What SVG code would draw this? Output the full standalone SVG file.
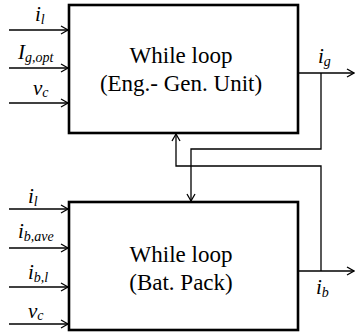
<svg xmlns="http://www.w3.org/2000/svg" width="355" height="335" viewBox="0 0 355 335">
<defs>
<marker id="arr" markerUnits="userSpaceOnUse" markerWidth="12" markerHeight="12" refX="8" refY="5" orient="auto">
<path d="M1,1 L8,5 L1,9" fill="none" stroke="#000" stroke-width="1.3"/>
</marker>
<style>
.box{fill:#fff;stroke:#000;stroke-width:2.6}
.ln{fill:none;stroke:#000;stroke-width:1.3}
</style>
</defs>
<rect width="355" height="335" fill="#fff"/>
<g id="connectors">
<line class="ln" x1="9" y1="30" x2="68" y2="30" marker-end="url(#arr)"/>
<line class="ln" x1="9" y1="68" x2="68" y2="68" marker-end="url(#arr)"/>
<line class="ln" x1="9" y1="103" x2="68" y2="103" marker-end="url(#arr)"/>
<line class="ln" x1="9" y1="209" x2="68" y2="209" marker-end="url(#arr)"/>
<line class="ln" x1="9" y1="248" x2="68" y2="248" marker-end="url(#arr)"/>
<line class="ln" x1="9" y1="287" x2="68" y2="287" marker-end="url(#arr)"/>
<line class="ln" x1="9" y1="324" x2="68" y2="324" marker-end="url(#arr)"/>
<line class="ln" x1="298" y1="73" x2="354" y2="73" marker-end="url(#arr)"/>
<path class="ln" d="M321,73 V149 H191 V201" marker-end="url(#arr)"/>
<line class="ln" x1="298" y1="271" x2="354" y2="271" marker-end="url(#arr)"/>
<path class="ln" d="M321,271 V166 H176 V134" marker-end="url(#arr)"/>
</g>
<g id="eng-gen-unit" font-family="Liberation Serif, DejaVu Serif, serif" font-size="23" text-anchor="middle">
<rect class="box" x="69" y="5" width="229" height="128"/>
<text x="181" y="63">While loop</text>
<text x="181" y="91">(Eng.- Gen. Unit)</text>
</g>
<g id="bat-pack" font-family="Liberation Serif, DejaVu Serif, serif" font-size="23" text-anchor="middle">
<rect class="box" x="69" y="202" width="229" height="128"/>
<text x="181" y="262">While loop</text>
<text x="181" y="290">(Bat. Pack)</text>
</g>
<g id="labels" font-family="Liberation Serif, DejaVu Serif, serif" font-style="italic" font-size="21">
<text x="35" y="21">i<tspan font-size="14" dy="3">l</tspan></text>
<text x="18" y="59">I<tspan font-size="14" dy="3">g,opt</tspan></text>
<text x="33" y="95">v<tspan font-size="14" dy="2">c</tspan></text>
<text x="28" y="203">i<tspan font-size="14" dy="3">l</tspan></text>
<text x="18" y="238">i<tspan font-size="14" dy="3">b,ave</tspan></text>
<text x="28" y="279">i<tspan font-size="14" dy="3">b,l</tspan></text>
<text x="28" y="318">v<tspan font-size="14" dy="2">c</tspan></text>
<text x="318" y="63">i<tspan font-size="14" dy="3">g</tspan></text>
<text x="316" y="294">i<tspan font-size="14" dy="3">b</tspan></text>
</g>
</svg>
